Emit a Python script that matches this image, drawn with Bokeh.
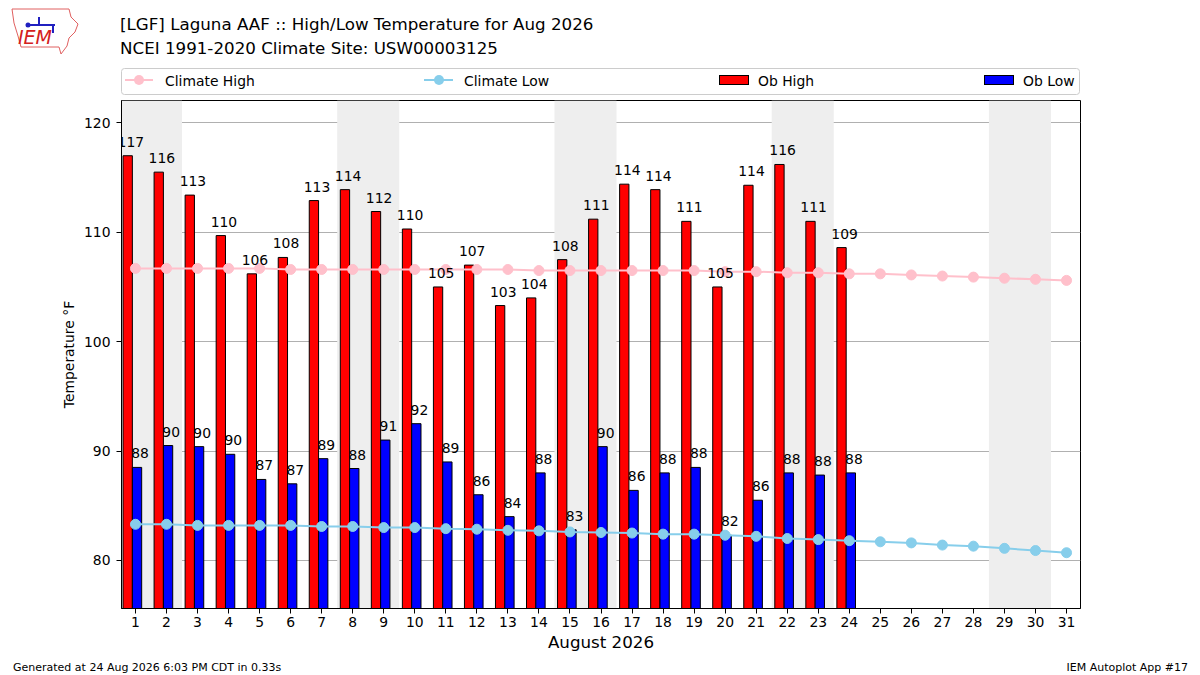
import datetime
import numpy as np
from bokeh.plotting import figure
from bokeh.layouts import column
from bokeh.models import (FixedTicker, Div, BoxAnnotation, ColumnDataSource, Range1d)
from bokeh.core.properties import value
from bokeh.embed import file_html
from bokeh.resources import INLINE

# ---------------- data ----------------
year, month = 2026, 8
days = list(range(1, 32))
climate_high = [106.7, 106.7, 106.7, 106.7, 106.7, 106.6, 106.6, 106.6, 106.6, 106.6,
                106.6, 106.6, 106.6, 106.5, 106.5, 106.5, 106.5, 106.5, 106.5, 106.4,
                106.4, 106.3, 106.3, 106.2, 106.2, 106.1, 106.0, 105.9, 105.8, 105.7,
                105.6]
climate_low = [83.3, 83.3, 83.2, 83.2, 83.2, 83.2, 83.1, 83.1, 83.0, 83.0,
               82.9, 82.85, 82.75, 82.7, 82.6, 82.55, 82.5, 82.4, 82.4, 82.3,
               82.2, 82.0, 81.9, 81.8, 81.7, 81.6, 81.4, 81.3, 81.1, 80.9,
               80.7]
obs_days = list(range(1, 25))
ob_high = [117.0, 115.5, 113.4, 109.7, 106.2, 107.7, 112.9, 113.9, 111.9, 110.3,
           105.0, 107.0, 103.3, 104.0, 107.5, 111.2, 114.4, 113.9, 111.0, 105.0,
           114.3, 116.2, 111.0, 108.6]
ob_low = [88.5, 90.5, 90.4, 89.7, 87.4, 87.0, 89.3, 88.4, 91.0, 92.5,
          89.0, 86.0, 84.0, 88.0, 82.8, 90.4, 86.4, 88.0, 88.5, 82.3,
          85.5, 88.0, 87.8, 88.0]
y_ticks = [80, 90, 100, 110, 120]
title1 = "[LGF] Laguna AAF :: High/Low Temperature for Aug 2026"
title2 = "NCEI 1991-2020 Climate Site: USW00003125"
xlabel = "August 2026"
ylabel = "Temperature \u00b0F"
footer_left = "Generated at 24 Aug 2026 6:03 PM CDT in 0.33s"
footer_right = "IEM Autoplot App #17"
legend_labels = ["Climate High", "Climate Low", "Ob High", "Ob Low"]

FONT = "DejaVu Sans"
W = 1184
HEAD_H, MAIN_H, FOOT_H = 89, 556, 14
HIGH_C, LOW_C, CH_C, CL_C = "#ff0000", "#0000ff", "pink", "skyblue"

# ---------------- header (HTML): logo, titles, legend ----------------
logo_svg = (
    '<svg width="76" height="56" xmlns="http://www.w3.org/2000/svg" '
    'style="position:absolute;left:4px;top:2px">'
    '<path d="M3 2 L60 2 L62 10 L69 17 L66 25 L60 31 L58 39 L52 47 L50 40 L12 40 '
    'L9 29 L5 16 Z" fill="none" stroke="#e06060" stroke-width="1"/>'
    '<path d="M20 18 L46 18 M30 18 L30 10 M44 18 L44 26" stroke="#2020c0" '
    'stroke-width="2" fill="none"/>'
    '<circle cx="19" cy="18" r="2.5" fill="#2020c0"/>'
    '<text x="9" y="37" font-family="Liberation Serif" font-style="italic" '
    'font-size="19" fill="#d42020">IEM</text></svg>')

LX, LY = 3, 2          # legend block shift inside the header
leg_y = 73 + LY
legend_svg = (
    f'<svg width="{W}" height="96" xmlns="http://www.w3.org/2000/svg" '
    'style="position:absolute;left:0px;top:0px;overflow:visible">'
    f'<rect x="{113.5 + LX}" y="{61.5 + LY}" width="958" height="26" rx="3" ry="3" '
    'fill="white" stroke="#cccccc" stroke-width="1"/>'
    f'<line x1="{117 + LX}" y1="{leg_y}" x2="{145 + LX}" y2="{leg_y}" stroke="{CH_C}" stroke-width="2"/>'
    f'<circle cx="{131 + LX}" cy="{leg_y}" r="5" fill="{CH_C}"/>'
    f'<line x1="{416 + LX}" y1="{leg_y}" x2="{445 + LX}" y2="{leg_y}" stroke="{CL_C}" stroke-width="2"/>'
    f'<circle cx="{431 + LX}" cy="{leg_y}" r="5" fill="{CL_C}"/>'
    f'<rect x="{711.5 + LX}" y="{leg_y - 4.5}" width="29" height="9" fill="{HIGH_C}" '
    'stroke="black" stroke-width="1"/>'
    f'<rect x="{976.5 + LX}" y="{leg_y - 4.5}" width="29" height="9" fill="{LOW_C}" '
    'stroke="black" stroke-width="1"/>'
    '</svg>')


def span(txt, left, top, size, lh):
    return (f'<span style="position:absolute;left:{left}px;top:{top}px;font-size:{size};'
            f'line-height:{lh}px;white-space:nowrap">{txt}</span>')


head_html = (
    f'<div style="position:relative;width:{W}px;height:{HEAD_H}px;overflow:visible;'
    f'font-family:\'{FONT}\';color:black">'
    + logo_svg + legend_svg
    + span(title1, 115, 9, "16.7px", 20)
    + span(title2, 115, 33, "16.7px", 20)
    + span(legend_labels[0], 157 + LX, 65 + LY + 1, "13.9px", 16)
    + span(legend_labels[1], 456 + LX, 65 + LY + 1, "13.9px", 16)
    + span(legend_labels[2], 750 + LX, 65 + LY + 1, "13.9px", 16)
    + span(legend_labels[3], 1015 + LX, 65 + LY + 1, "13.9px", 16)
    + '</div>')
head = Div(text=head_html, width=W, height=HEAD_H, styles={"overflow": "visible"})

# ---------------- main chart ----------------
p = figure(width=W, height=MAIN_H, output_backend="svg", toolbar_location=None,
           x_range=Range1d(0.55, 31.45), y_range=Range1d(75.6, 122.05),
           min_border_left=121, min_border_right=104, min_border_top=1,
           min_border_bottom=MAIN_H - 1 - 508, title=None)
p.background_fill_color = "white"
p.border_fill_color = None
p.outline_line_color = "black"
p.outline_line_width = 1
p.outline_line_alpha = 1

for d in days:
    if datetime.date(year, month, d).weekday() == 5:  # Saturday + Sunday
        p.add_layout(BoxAnnotation(left=d - 0.5, right=d + 1.5,
                                   fill_color="#eeeeee", fill_alpha=1.0,
                                   line_alpha=0, level="underlay"))

p.xgrid.visible = False
p.ygrid.grid_line_color = "#b0b0b0"
p.ygrid.grid_line_width = 1
p.ygrid.level = "underlay"

od = np.array(obs_days, dtype=float)
src = ColumnDataSource(dict(
    xh=od - 0.25, xl=od + 0.05, hi=ob_high, lo=ob_low,
    xht=od - 0.15, xlt=od + 0.15,
    hit=["%.0f" % v for v in ob_high], lot=["%.0f" % v for v in ob_low]))
p.vbar(x="xh", width=0.3, top="hi", bottom=0, source=src,
       fill_color=HIGH_C, line_color="black", line_width=1)
p.vbar(x="xl", width=0.3, top="lo", bottom=0, source=src,
       fill_color=LOW_C, line_color="black", line_width=1)

p.line(days, climate_high, line_color=CH_C, line_width=2)
p.scatter(days, climate_high, size=10, fill_color=CH_C, line_color=CH_C)
p.line(days, climate_low, line_color=CL_C, line_width=2)
p.scatter(days, climate_low, size=10, fill_color=CL_C, line_color=CL_C)

p.text(x="xht", y="hi", text="hit", source=src, text_align="center",
       text_baseline="alphabetic", y_offset=-14, text_font=value(FONT),
       text_font_size="13.9px", text_color="black")
p.text(x="xlt", y="lo", text="lot", source=src, text_align="center",
       text_baseline="alphabetic", y_offset=-14, text_font=value(FONT),
       text_font_size="13.9px", text_color="black")

for ax in (p.xaxis[0], p.yaxis[0]):
    ax.axis_line_color = "black"
    ax.major_tick_line_color = "black"
    ax.major_tick_out = 5
    ax.major_tick_in = 0
    ax.minor_tick_line_color = None
    ax.major_label_text_font = FONT
    ax.major_label_text_font_size = "13.9px"
    ax.major_label_text_color = "black"
    ax.axis_label_text_font = FONT
    ax.axis_label_text_font_style = "normal"
    ax.axis_label_text_color = "black"
p.xaxis.ticker = FixedTicker(ticks=days)
p.yaxis.ticker = FixedTicker(ticks=y_ticks)
p.xaxis.axis_label = xlabel
p.xaxis.axis_label_text_font_size = "16.7px"
p.xaxis.axis_label_standoff = 2
p.xaxis.major_label_standoff = 3
p.yaxis.axis_label = ylabel
p.yaxis.axis_label_text_font_size = "13.9px"
p.yaxis.axis_label_standoff = 4
p.yaxis.major_label_standoff = 6

# ---------------- footer (HTML) ----------------
foot_html = (
    f'<div style="position:relative;width:{W}px;height:{FOOT_H}px;'
    f'font-family:\'{FONT}\';font-size:11px;color:black;line-height:{FOOT_H}px">'
    f'<span style="position:absolute;left:8px;top:1px;white-space:nowrap">{footer_left}</span>'
    f'<span style="position:absolute;right:1px;top:1px;white-space:nowrap">{footer_right}</span>'
    '</div>')
foot = Div(text=foot_html, width=W, height=FOOT_H)

layout = column(head, p, foot, spacing=0)
open("out.html", "w").write(file_html(layout, INLINE))
